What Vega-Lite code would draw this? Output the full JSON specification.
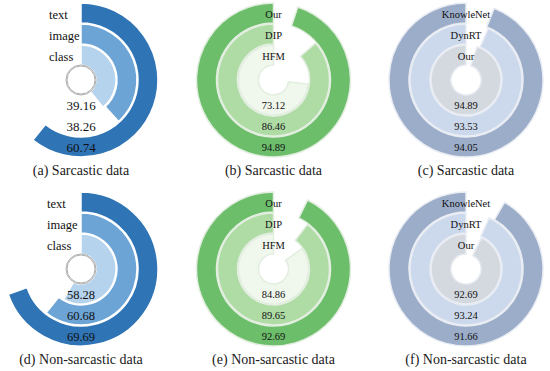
{
  "$schema": "https://vega.github.io/schema/vega-lite/v6.json",
  "padding": {"left": 1, "top": 0, "right": 0, "bottom": 0},
  "background": "white",
  "columns": 3,
  "spacing": {"row": 29, "column": 32.5},
  "bounds": "flush",
  "resolve": {"scale": {"color": "independent", "theta": "independent", "radius": "independent"}},
  "config": {"view": {"stroke": null}, "font": "Liberation Serif", "title": {"font": "Liberation Serif", "fontSize": 14, "fontWeight": "normal", "color": "#1a1a1a"}},
  "datasets": {
    "a": [{"ring": 1, "name": "class", "value": 39.16}, {"ring": 2, "name": "image", "value": 38.26}, {"ring": 3, "name": "text", "value": 60.74}],
    "b": [{"ring": 1, "name": "HFM", "value": 73.12}, {"ring": 2, "name": "DIP", "value": 86.46}, {"ring": 3, "name": "Our", "value": 94.89}],
    "c": [{"ring": 1, "name": "Our", "value": 94.89}, {"ring": 2, "name": "DynRT", "value": 93.53}, {"ring": 3, "name": "KnowleNet", "value": 94.05}],
    "d": [{"ring": 1, "name": "class", "value": 58.28}, {"ring": 2, "name": "image", "value": 60.68}, {"ring": 3, "name": "text", "value": 69.69}],
    "e": [{"ring": 1, "name": "HFM", "value": 84.86}, {"ring": 2, "name": "DIP", "value": 89.65}, {"ring": 3, "name": "Our", "value": 92.69}],
    "f": [{"ring": 1, "name": "Our", "value": 92.69}, {"ring": 2, "name": "DynRT", "value": 93.24}, {"ring": 3, "name": "KnowleNet", "value": 91.66}],
    "one": [{"hole": 1}]
  },
  "concat": [
    {
      "width": 160, "height": 160,
      "title": {"text": "(a) Sarcastic data", "orient": "bottom", "offset": 4},
      "data": {"name": "a"},
      "layer": [
        {"mark": {"type": "arc", "stroke": "white", "strokeWidth": 1.5, "radius2Offset": -20},
         "encoding": {
           "theta": {"field": "value", "type": "quantitative", "stack": null, "scale": {"domain": [0, 100]}},
           "theta2": {"datum": 0},
           "radius": {"field": "ring", "type": "quantitative", "scale": {"type": "linear", "domain": [0, 3], "range": [14, 77], "zero": false}},
           "radius2": {"field": "ring"},
           "color": {"field": "name", "type": "nominal", "legend": null, "scale": {"domain": ["class", "image", "text"], "range": ["#b5d3ec", "#6ca4d6", "#2f74b5"]}}
         }},
        {"data": {"name": "one"},
         "mark": {"type": "arc", "fill": "white", "stroke": "#b0b0b0", "strokeWidth": 1},
         "encoding": {"theta": {"datum": 0}, "theta2": {"datum": 100}, "radius": {"datum": 0.048}}},
        {"mark": {"type": "text", "radiusOffset": -12, "dx": -32, "align": "left", "baseline": "middle", "fontSize": 12.5, "color": "#111"},
         "encoding": {"theta": {"datum": 0}, "radius": {"field": "ring", "type": "quantitative"}, "text": {"field": "name"}}},
        {"mark": {"type": "text", "radiusOffset": -9, "align": "center", "baseline": "middle", "fontSize": 13, "color": "#111"},
         "encoding": {"theta": {"datum": 50}, "radius": {"field": "ring", "type": "quantitative"}, "text": {"field": "value", "type": "quantitative", "format": ".2f"}}}
      ]
    },
    {
      "width": 160, "height": 160,
      "title": {"text": "(b) Sarcastic data", "orient": "bottom", "offset": 4},
      "data": {"name": "b"},
      "layer": [
        {"mark": {"type": "arc", "stroke": "#e2eedf", "strokeWidth": 1.5, "radius2Offset": -20},
         "encoding": {
           "theta": {"field": "value", "type": "quantitative", "stack": null, "scale": {"domain": [0, 100], "reverse": true}},
           "theta2": {"datum": 0},
           "radius": {"field": "ring", "type": "quantitative", "scale": {"type": "linear", "domain": [0, 3], "range": [14, 77], "zero": false}},
           "radius2": {"field": "ring"},
           "color": {"field": "name", "type": "nominal", "legend": null, "scale": {"domain": ["HFM", "DIP", "Our"], "range": ["#f0f7ed", "#afdba5", "#6dbe6b"]}}
         }},
        {"mark": {"type": "text", "radiusOffset": -12, "align": "center", "baseline": "middle", "fontSize": 10.5, "color": "#111"},
         "encoding": {"theta": {"datum": 0}, "radius": {"field": "ring", "type": "quantitative"}, "text": {"field": "name"}}},
        {"mark": {"type": "text", "radiusOffset": -9, "align": "center", "baseline": "middle", "fontSize": 10.5, "color": "#111"},
         "encoding": {"theta": {"datum": 50}, "radius": {"field": "ring", "type": "quantitative"}, "text": {"field": "value", "type": "quantitative", "format": ".2f"}}}
      ]
    },
    {
      "width": 160, "height": 160,
      "title": {"text": "(c) Sarcastic data", "orient": "bottom", "offset": 4},
      "data": {"name": "c"},
      "layer": [
        {"mark": {"type": "arc", "stroke": "#e9edf3", "strokeWidth": 1.5, "radius2Offset": -20},
         "encoding": {
           "theta": {"field": "value", "type": "quantitative", "stack": null, "scale": {"domain": [0, 100], "reverse": true}},
           "theta2": {"datum": 0},
           "radius": {"field": "ring", "type": "quantitative", "scale": {"type": "linear", "domain": [0, 3], "range": [14, 77], "zero": false}},
           "radius2": {"field": "ring"},
           "color": {"field": "name", "type": "nominal", "legend": null, "scale": {"domain": ["Our", "DynRT", "KnowleNet"], "range": ["#d4d8df", "#ccd9ec", "#9cadc9"]}}
         }},
        {"mark": {"type": "text", "radiusOffset": -12, "align": "center", "baseline": "middle", "fontSize": 10.5, "color": "#111"},
         "encoding": {"theta": {"datum": 0}, "radius": {"field": "ring", "type": "quantitative"}, "text": {"field": "name"}}},
        {"mark": {"type": "text", "radiusOffset": -9, "align": "center", "baseline": "middle", "fontSize": 10.5, "color": "#111"},
         "encoding": {"theta": {"datum": 50}, "radius": {"field": "ring", "type": "quantitative"}, "text": {"field": "value", "type": "quantitative", "format": ".2f"}}}
      ]
    },
    {
      "width": 160, "height": 160,
      "title": {"text": "(d) Non-sarcastic data", "orient": "bottom", "offset": 4},
      "data": {"name": "d"},
      "layer": [
        {"mark": {"type": "arc", "stroke": "white", "strokeWidth": 1.5, "radius2Offset": -20},
         "encoding": {
           "theta": {"field": "value", "type": "quantitative", "stack": null, "scale": {"domain": [0, 100]}},
           "theta2": {"datum": 0},
           "radius": {"field": "ring", "type": "quantitative", "scale": {"type": "linear", "domain": [0, 3], "range": [14, 77], "zero": false}},
           "radius2": {"field": "ring"},
           "color": {"field": "name", "type": "nominal", "legend": null, "scale": {"domain": ["class", "image", "text"], "range": ["#b5d3ec", "#6ca4d6", "#2f74b5"]}}
         }},
        {"data": {"name": "one"},
         "mark": {"type": "arc", "fill": "white", "stroke": "#b0b0b0", "strokeWidth": 1},
         "encoding": {"theta": {"datum": 0}, "theta2": {"datum": 100}, "radius": {"datum": 0.048}}},
        {"mark": {"type": "text", "radiusOffset": -12, "dx": -34, "align": "left", "baseline": "middle", "fontSize": 12.5, "color": "#111"},
         "encoding": {"theta": {"datum": 0}, "radius": {"field": "ring", "type": "quantitative"}, "text": {"field": "name"}}},
        {"mark": {"type": "text", "radiusOffset": -9, "align": "center", "baseline": "middle", "fontSize": 12.5, "color": "#111"},
         "encoding": {"theta": {"datum": 50}, "radius": {"field": "ring", "type": "quantitative"}, "text": {"field": "value", "type": "quantitative", "format": ".2f"}}}
      ]
    },
    {
      "width": 160, "height": 160,
      "title": {"text": "(e) Non-sarcastic data", "orient": "bottom", "offset": 4},
      "data": {"name": "e"},
      "layer": [
        {"mark": {"type": "arc", "stroke": "#e2eedf", "strokeWidth": 1.5, "radius2Offset": -20},
         "encoding": {
           "theta": {"field": "value", "type": "quantitative", "stack": null, "scale": {"domain": [0, 100], "reverse": true}},
           "theta2": {"datum": 0},
           "radius": {"field": "ring", "type": "quantitative", "scale": {"type": "linear", "domain": [0, 3], "range": [14, 77], "zero": false}},
           "radius2": {"field": "ring"},
           "color": {"field": "name", "type": "nominal", "legend": null, "scale": {"domain": ["HFM", "DIP", "Our"], "range": ["#f0f7ed", "#afdba5", "#6dbe6b"]}}
         }},
        {"mark": {"type": "text", "radiusOffset": -12, "align": "center", "baseline": "middle", "fontSize": 10.5, "color": "#111"},
         "encoding": {"theta": {"datum": 0}, "radius": {"field": "ring", "type": "quantitative"}, "text": {"field": "name"}}},
        {"mark": {"type": "text", "radiusOffset": -9, "align": "center", "baseline": "middle", "fontSize": 10.5, "color": "#111"},
         "encoding": {"theta": {"datum": 50}, "radius": {"field": "ring", "type": "quantitative"}, "text": {"field": "value", "type": "quantitative", "format": ".2f"}}}
      ]
    },
    {
      "width": 160, "height": 160,
      "title": {"text": "(f) Non-sarcastic data", "orient": "bottom", "offset": 4},
      "data": {"name": "f"},
      "layer": [
        {"mark": {"type": "arc", "stroke": "#e9edf3", "strokeWidth": 1.5, "radius2Offset": -20},
         "encoding": {
           "theta": {"field": "value", "type": "quantitative", "stack": null, "scale": {"domain": [0, 100], "reverse": true}},
           "theta2": {"datum": 0},
           "radius": {"field": "ring", "type": "quantitative", "scale": {"type": "linear", "domain": [0, 3], "range": [14, 77], "zero": false}},
           "radius2": {"field": "ring"},
           "color": {"field": "name", "type": "nominal", "legend": null, "scale": {"domain": ["Our", "DynRT", "KnowleNet"], "range": ["#d4d8df", "#ccd9ec", "#9cadc9"]}}
         }},
        {"mark": {"type": "text", "radiusOffset": -12, "align": "center", "baseline": "middle", "fontSize": 10.5, "color": "#111"},
         "encoding": {"theta": {"datum": 0}, "radius": {"field": "ring", "type": "quantitative"}, "text": {"field": "name"}}},
        {"mark": {"type": "text", "radiusOffset": -9, "align": "center", "baseline": "middle", "fontSize": 10.5, "color": "#111"},
         "encoding": {"theta": {"datum": 50}, "radius": {"field": "ring", "type": "quantitative"}, "text": {"field": "value", "type": "quantitative", "format": ".2f"}}}
      ]
    }
  ]
}
